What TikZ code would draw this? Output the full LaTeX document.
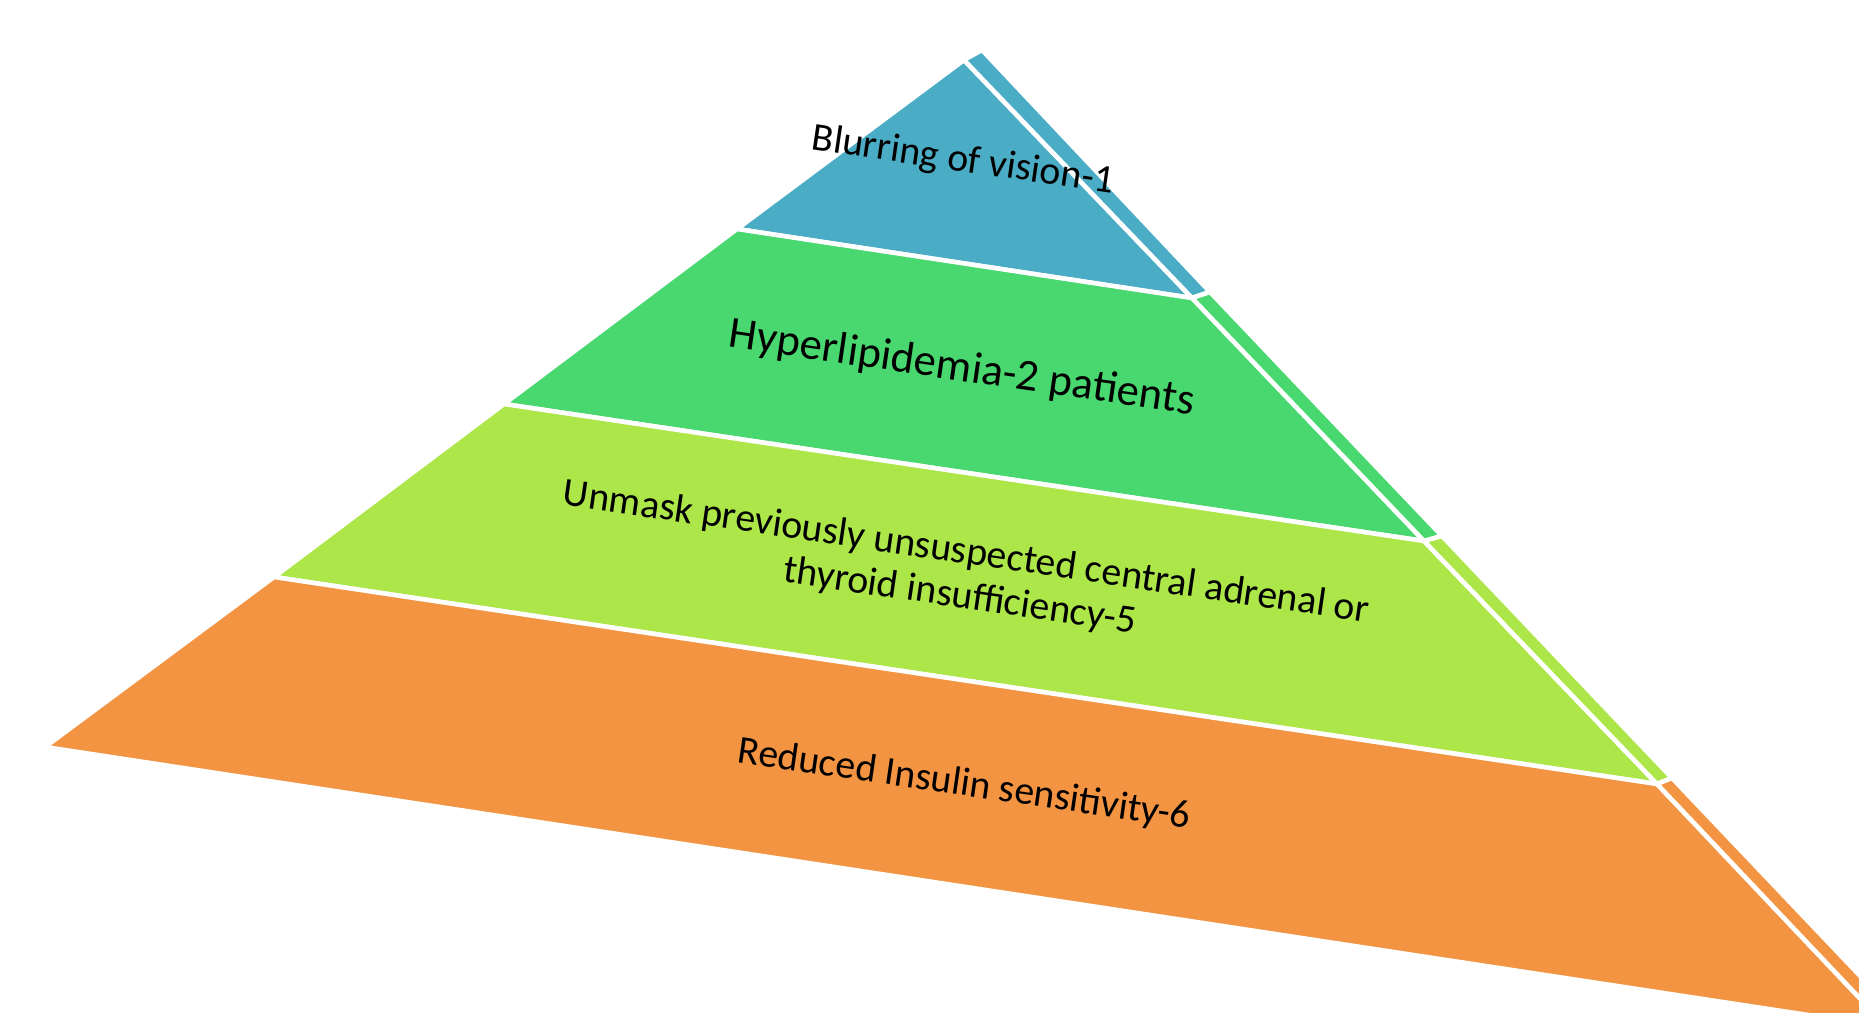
\documentclass[tikz,border=0pt]{standalone}
\usepackage{fontspec}
\setmainfont{Carlito}
\usepackage{tikz}
\usetikzlibrary{positioning,calc}
\usepackage{xcolor}
\definecolor{layblue}{HTML}{4BACC6}
\definecolor{laygreen}{HTML}{48D86F}
\definecolor{laylime}{HTML}{ADE649}
\definecolor{layorange}{HTML}{F39443}

\begin{document}
\begin{tikzpicture}[x=0.01cm,y=-0.01cm,
    lay/.style={draw=white,line width=1.3pt,line join=round},
    lbl/.style={font=\fontsize{11.3}{12.6}\selectfont,rotate=-8.3,align=center,inner sep=0pt}]

\useasboundingbox (0,0) rectangle (1859,1013);
\clip (0,0) rectangle (1859,1013);

% front face
\coordinate (a) at (964,60);
\coordinate (l1) at (737,229);
\coordinate (l2) at (504,404);
\coordinate (l3) at (274,577);
\coordinate (l4) at (45,747);
\coordinate (r1) at (1192,298);
\coordinate (r2) at (1424,541);
\coordinate (r3) at (1657,784);
\coordinate (r4) at (1887,1027);
% side strip
\coordinate (b) at (982,50);
\coordinate (s1) at (1210,292);
\coordinate (s2) at (1442,536);
\coordinate (s3) at (1672,778);
\coordinate (s4) at (1902,1020);

\fill[layblue,lay] (a) -- (r1) -- (l1) -- cycle;
\fill[layblue,lay] (a) -- (b) -- (s1) -- (r1) -- cycle;

\fill[laygreen,lay] (l1) -- (r1) -- (r2) -- (l2) -- cycle;
\fill[laygreen,lay] (r1) -- (s1) -- (s2) -- (r2) -- cycle;

\fill[laylime,lay] (l2) -- (r2) -- (r3) -- (l3) -- cycle;
\fill[laylime,lay] (r2) -- (s2) -- (s3) -- (r3) -- cycle;

\fill[layorange,lay] (l3) -- (r3) -- (r4) -- (l4) -- cycle;
\fill[layorange,lay] (r3) -- (s3) -- (s4) -- (r4) -- cycle;

\node[lbl] (blur) at (963,161) {Blurring of vision-1};
\node[lbl,font=\fontsize{12.7}{14}\selectfont] (hyper) at (962,369) {Hyperlipidemia-2 patients};
\node[lbl] (unmask) at (963,575) {Unmask previously unsuspected central adrenal or\\thyroid insufficiency-5};
\node[lbl] (insulin) at (964,785) {Reduced Insulin sensitivity-6};

\end{tikzpicture}
\end{document}
